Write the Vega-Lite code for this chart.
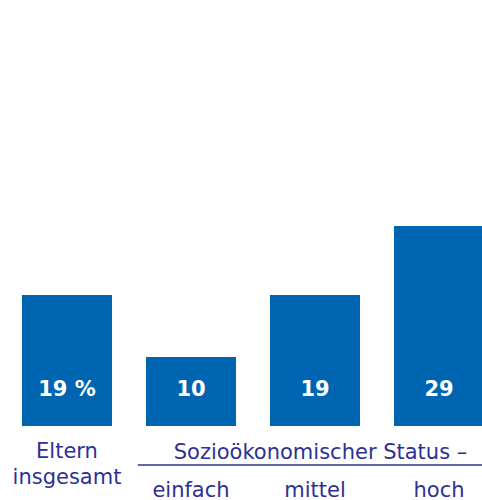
{
  "$schema": "https://vega.github.io/schema/vega-lite/v6.json",
  "width": 506,
  "height": 426,
  "autosize": {"type": "none"},
  "padding": {"top": 0, "left": 0, "right": 0, "bottom": 74},
  "background": "white",
  "config": {"view": {"stroke": null}},
  "data": {
    "values": [
      {"gruppe": "Eltern insgesamt", "wert": 19, "label": "19 %"},
      {"gruppe": "einfach", "wert": 10, "label": "10"},
      {"gruppe": "mittel", "wert": 19, "label": "19"},
      {"gruppe": "hoch", "wert": 29, "label": "29"}
    ]
  },
  "encoding": {
    "x": {
      "field": "gruppe",
      "type": "nominal",
      "sort": null,
      "scale": {"paddingInner": 0.274, "paddingOuter": 0.177},
      "axis": {
        "title": "Sozioökonomischer Status –",
        "titleX": 320,
        "titleY": 26,
        "titleAlign": "center",
        "titleAnchor": null,
        "titleBaseline": "middle",
        "titleFont": "DejaVu Sans",
        "titleFontSize": 21,
        "titleFontWeight": "normal",
        "titleColor": "#2e3192",
        "domain": false,
        "ticks": false,
        "tickSize": 0,
        "grid": false,
        "labelAngle": 0,
        "labelFont": "DejaVu Sans",
        "labelFontSize": 21,
        "labelColor": "#2e3192",
        "labelBaseline": "middle",
        "labelPadding": 64,
        "labelLimit": 0,
        "labelExpr": "datum.value === 'Eltern insgesamt' ? '' : datum.value"
      }
    }
  },
  "layer": [
    {
      "mark": {"type": "bar", "color": "#0065b1"},
      "encoding": {
        "y": {
          "field": "wert",
          "type": "quantitative",
          "scale": {"domain": [0, 61.8], "nice": false},
          "axis": null
        }
      }
    },
    {
      "mark": {
        "type": "text",
        "color": "white",
        "font": "DejaVu Sans",
        "fontWeight": "bold",
        "fontSize": 21,
        "baseline": "middle"
      },
      "encoding": {
        "y": {"datum": 5.2},
        "text": {"field": "label"}
      }
    },
    {
      "transform": [{"filter": "datum.gruppe === 'Eltern insgesamt'"}],
      "mark": {
        "type": "text",
        "color": "#2e3192",
        "font": "DejaVu Sans",
        "fontSize": 21,
        "baseline": "middle",
        "lineHeight": 26
      },
      "encoding": {
        "y": {"datum": -3.72},
        "text": {"value": ["Eltern", "insgesamt"]}
      }
    },
    {
      "transform": [{"filter": "datum.gruppe === 'einfach'"}],
      "mark": {"type": "rule", "color": "#2e3192", "strokeWidth": 1.5},
      "encoding": {
        "x": {"datum": "einfach", "bandPosition": -0.09},
        "x2": {"datum": "hoch", "bandPosition": 1.5},
        "y": {"datum": -5.65}
      }
    }
  ]
}
